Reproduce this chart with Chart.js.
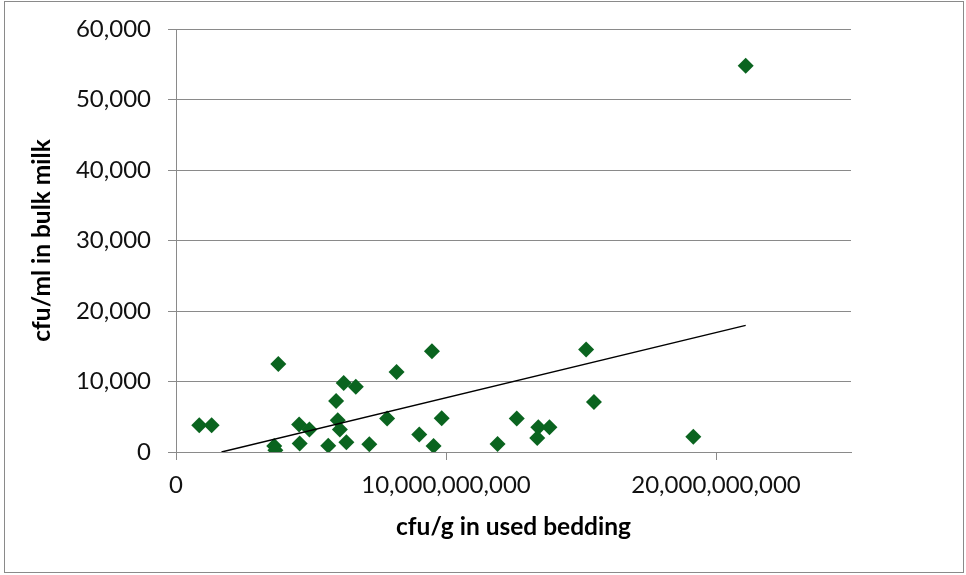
<!DOCTYPE html>
<html>
<head>
<meta charset="utf-8">
<script src="https://cdn.jsdelivr.net/npm/chart.js@4/dist/chart.umd.min.js"></script>
<style>
  html, body { margin: 0; padding: 0; background: #ffffff; }
  #wrap { width: 966px; height: 575px; position: relative; }
</style>
</head>
<body>
<div id="wrap"><canvas id="c" width="966" height="575"></canvas></div>
<script>
// Bacterial counts per farm: used bedding (cfu/g) vs bulk milk (cfu/ml)
const beddingCfu = [
  860000000, 1320000000, 3790000000, 3640000000, 3680000000,
  4560000000, 4580000000, 4940000000, 5640000000, 5930000000,
  5990000000, 6070000000, 6310000000, 6210000000, 6660000000,
  7160000000, 7820000000, 8170000000, 9010000000, 9480000000,
  9540000000, 9840000000, 11910000000, 12620000000, 13420000000,
  13380000000, 13830000000, 15190000000, 15480000000, 19160000000,
  21100000000
];
const milkCfu = [
  3800, 3800, 12500, 850, 250,
  3900, 1200, 3200, 900, 7250,
  4500, 3200, 1400, 9800, 9250,
  1100, 4750, 11350, 2500, 14300,
  850, 4800, 1150, 4750, 3500,
  2000, 3500, 14550, 7100, 2150,
  54800
];
const xTickValues = [0, 10000000000, 20000000000];
const yTickValues = [0, 10000, 20000, 30000, 40000, 50000, 60000];
const xAxisTitle = 'cfu/g in used bedding';
const yAxisTitle = 'cfu/ml in bulk milk';

// Least-squares linear trendline over the data, kept within the y >= 0 region
function linearTrend(xs, ys) {
  const n = xs.length;
  const mx = xs.reduce((a, b) => a + b, 0) / n;
  const my = ys.reduce((a, b) => a + b, 0) / n;
  let sxy = 0, sxx = 0;
  for (let i = 0; i < n; i++) {
    sxy += (xs[i] - mx) * (ys[i] - my);
    sxx += (xs[i] - mx) * (xs[i] - mx);
  }
  const slope = sxy / sxx;
  const icpt = my - slope * mx;
  let x0 = Math.min(...xs);
  const x1 = Math.max(...xs);
  if (icpt + slope * x0 < 0 && slope > 0) x0 = -icpt / slope;
  return [{ x: x0, y: icpt + slope * x0 }, { x: x1, y: icpt + slope * x1 }];
}

const points = beddingCfu.map((x, i) => ({ x: x, y: milkCfu[i] }));
const fmt = v => Number(v).toLocaleString('en-US');

// White background and thin grey outline around the whole chart
const frame = {
  id: 'frame',
  beforeDraw(chart) {
    const ctx = chart.ctx;
    ctx.save();
    ctx.fillStyle = '#ffffff';
    ctx.fillRect(0, 0, chart.width, chart.height);
    ctx.strokeStyle = '#8a8a8a';
    ctx.lineWidth = 1;
    ctx.strokeRect(4.5, 1.5, 959, 571);
    ctx.restore();
  }
};

const tickFont = { family: 'Lato', size: 24 };
const titleFont = { family: 'Lato', size: 24.5, weight: 'bold' };

new Chart(document.getElementById('c'), {
  type: 'scatter',
  data: {
    datasets: [
      {
        type: 'line',
        label: 'Linear trend',
        data: linearTrend(beddingCfu, milkCfu),
        borderColor: '#000000',
        borderWidth: 1.5,
        pointRadius: 0,
        fill: false,
        order: 0
      },
      {
        label: 'Farms',
        data: points,
        pointStyle: 'rectRot',
        pointRadius: 8,
        pointHoverRadius: 8,
        backgroundColor: '#0a641f',
        borderColor: '#0a641f',
        borderWidth: 0,
        order: 1
      }
    ]
  },
  options: {
    responsive: false,
    devicePixelRatio: 1,
    animation: false,
    layout: { padding: { left: 0, top: 29, right: 115, bottom: 0 } },
    plugins: { legend: { display: false }, tooltip: { enabled: false } },
    scales: {
      x: {
        type: 'linear',
        min: 0,
        max: 25000000000,
        afterBuildTicks(scale) { scale.ticks = xTickValues.map(v => ({ value: v })); },
        afterFit(scale) { scale.height = 123; scale.paddingLeft = 0; scale.paddingRight = 0; },
        ticks: { callback: fmt, font: tickFont, color: '#111111', padding: 11, maxRotation: 0, autoSkip: false },
        grid: { drawOnChartArea: false, drawTicks: true, tickLength: 8, color: '#8a8a8a', lineWidth: 1 },
        border: { color: '#8a8a8a', width: 1 },
        title: { display: true, text: xAxisTitle, font: titleFont, color: '#000000', padding: { top: 0, bottom: 33 } }
      },
      y: {
        type: 'linear',
        min: 0,
        max: 60000,
        afterBuildTicks(scale) { scale.ticks = yTickValues.map(v => ({ value: v })); },
        afterFit(scale) { scale.width = 176; scale.paddingTop = 0; scale.paddingBottom = 0; },
        ticks: { callback: fmt, font: tickFont, color: '#111111', padding: 17 },
        grid: { drawTicks: true, tickLength: 8, color: '#8a8a8a', lineWidth: 1 },
        border: { color: '#8a8a8a', width: 1 },
        title: { display: true, text: yAxisTitle, font: titleFont, color: '#000000', padding: { top: 27, bottom: 0 } }
      }
    }
  },
  plugins: [frame]
});
</script>
</body>
</html>
